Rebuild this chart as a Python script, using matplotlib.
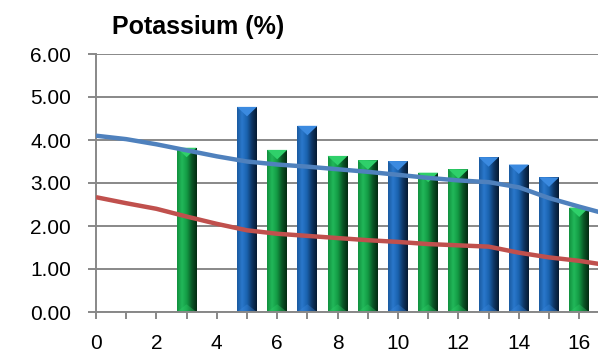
import matplotlib.pyplot as plt
import numpy as np
from matplotlib.colors import to_rgb
from matplotlib.patches import Polygon

# bar series
blue_x = [5, 7, 10, 13, 14, 15]
blue_vals = [4.77, 4.33, 3.51, 3.60, 3.43, 3.13]
green_x = [3, 6, 8, 9, 11, 12, 16]
green_vals = [3.82, 3.77, 3.63, 3.53, 3.24, 3.32, 2.43]

# trend lines
line_x = list(range(0, 18))
upper_line = [4.10, 4.02, 3.90, 3.76, 3.62, 3.50, 3.43, 3.38, 3.32,
              3.26, 3.19, 3.12, 3.06, 3.02, 2.90, 2.65, 2.45, 2.26]
lower_line = [2.67, 2.53, 2.40, 2.22, 2.05, 1.90, 1.82, 1.77, 1.72,
              1.67, 1.63, 1.58, 1.55, 1.52, 1.38, 1.27, 1.19, 1.08]

x_ticks = list(range(0, 17, 2))
y_ticks = [0, 1, 2, 3, 4, 5, 6]

BAR_W = 0.66
GRID = "#888888"


def shaded_bar(ax, x, h, stops, cap):
    cols = np.array([to_rgb(c) for c in stops])
    pos = np.linspace(0, 1, len(cols))
    t = np.linspace(0, 1, 64)
    grad = np.stack([np.interp(t, pos, cols[:, i]) for i in range(3)], axis=-1)
    grad = grad[np.newaxis, :, :]
    rect = ax.bar(x, h, width=BAR_W, color=stops[2], zorder=2, linewidth=0)[0]
    im = ax.imshow(grad, extent=(x - BAR_W / 2, x + BAR_W / 2, 0, h),
                   aspect="auto", zorder=2.1, interpolation="bilinear")
    im.set_clip_path(rect)
    tri = Polygon([(x - BAR_W / 2, h), (x + BAR_W / 2, h), (x, h - 0.22)],
                  closed=True, facecolor=cap, edgecolor="none", zorder=2.2)
    ax.add_patch(tri)
    tri2 = Polygon([(x - BAR_W / 2, 0), (x + BAR_W / 2, 0), (x, 0.18)],
                   closed=True, facecolor=cap, edgecolor="none", alpha=0.35,
                   zorder=2.2)
    ax.add_patch(tri2)


plt.rcParams["font.family"] = ["Liberation Sans", "DejaVu Sans"]
fig = plt.figure(figsize=(5.98, 3.54), dpi=100)
ax = fig.add_axes([96 / 598, 1 - 312 / 354, 502 / 598, 258 / 354])

blue_stops = ["#1a5aa0", "#2a78cc", "#1a62ae", "#0e3664", "#061a32"]
green_stops = ["#11903e", "#22b85a", "#139a44", "#0a5626", "#042a12"]
for x, h in zip(blue_x, blue_vals):
    shaded_bar(ax, x, h, blue_stops, "#3b8ae0")
for x, h in zip(green_x, green_vals):
    shaded_bar(ax, x, h, green_stops, "#2fd06a")

ax.plot(line_x, upper_line, color="#4f81bd", lw=3.2, zorder=3,
        solid_capstyle="butt")
ax.plot(line_x, lower_line, color="#c0504d", lw=3.2, zorder=3,
        solid_capstyle="butt")

ax.set_xlim(0, 502 / 30.2)
ax.set_ylim(0, 6)
ax.set_xticks(x_ticks)
ax.set_xticks(range(0, 17), minor=True)
ax.set_yticks(y_ticks)
ax.set_yticklabels([f"{v:.2f}" for v in y_ticks])
ax.grid(axis="y", color=GRID, lw=1.4, zorder=0)
ax.set_axisbelow(True)

for side in ["top", "right"]:
    ax.spines[side].set_visible(False)
for side in ["left", "bottom"]:
    ax.spines[side].set_color(GRID)
    ax.spines[side].set_linewidth(1.4)

ax.tick_params(axis="x", which="both", length=5, width=1.4, color=GRID,
               pad=11, labelsize=15)
ax.tick_params(axis="y", length=6, width=1.4, color=GRID, pad=12,
               labelsize=15)

fig.text(112 / 598, 1 - 34 / 354, "Potassium (%)", fontsize=18,
         fontweight="bold", ha="left", va="baseline")

fig.savefig("out.png", dpi=100)
